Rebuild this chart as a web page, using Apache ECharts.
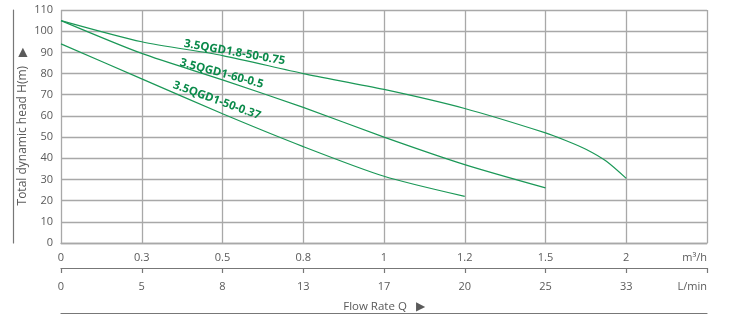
<!DOCTYPE html>
<html>
<head>
<meta charset="utf-8">
<script src="https://cdn.jsdelivr.net/npm/echarts@6/dist/echarts.min.js"></script>
<style>
  html, body { margin: 0; padding: 0; background: #fff; }
  #chart { width: 730px; height: 329px; }
</style>
</head>
<body>
<div id="chart"></div>
<script>
// Flow rate tick labels (evenly spaced positions 0..8)
const flowM3h = ['0', '0.3', '0.5', '0.8', '1', '1.2', '1.5', '2', 'm³/h'];
const flowLpm = ['0', '5', '8', '13', '17', '20', '25', '33', 'L/min'];
const headTicks = [0, 10, 20, 30, 40, 50, 60, 70, 80, 90, 100, 110];

// Pump curves: [flow position, head (m)]
const modelNames = ['3.5QGD1.8-50-0.75', '3.5QGD1-60-0.5', '3.5QGD1-50-0.37'];
const curveQGD18_50 = [[0, 105], [1, 95], [2, 88.5], [3, 80], [4, 72.5], [5, 63.5], [6, 52], [6.25, 48.4], [6.5, 44.3], [6.75, 38.7], [7, 30.5]];
const curveQGD1_60 = [[0, 105], [1, 89.5], [2, 77], [3, 64], [4, 50], [5, 37], [6, 26]];
const curveQGD1_50 = [[0, 94], [1, 77.5], [2, 61], [3, 45.5], [4, 31.5], [5, 22]];

// Where each model name sits along its curve, and its tilt
const labelAnchors = [[2.15, 90], [1.99, 80], [1.93, 67.3]];
const labelAngles = [-10, -15, -20];

const curves = [curveQGD18_50, curveQGD1_60, curveQGD1_50];

const FONT = '"Open Sans", "Noto Sans", sans-serif';
const GRID = '#a8a8a8';
const TEXT = '#5a5a5a';
const LINE = '#1b9857';
const LABEL = '#0a8a4a';

const chart = echarts.init(document.getElementById('chart'));

const series = curves.map((pts, i) => ({
  type: 'line',
  name: modelNames[i],
  data: pts,
  xAxisIndex: 0,
  yAxisIndex: 0,
  smooth: 0.25,
  symbol: 'none',
  lineStyle: { color: LINE, width: 1.2 },
  silent: true,
  markPoint: {
    symbol: 'circle',
    symbolSize: 1,
    itemStyle: { color: 'rgba(0,0,0,0)' },
    silent: true,
    data: [{
      coord: labelAnchors[i],
      label: {
        show: true,
        position: 'inside',
        formatter: modelNames[i],
        rotate: labelAngles[i],
        color: LABEL,
        fontFamily: FONT,
        fontWeight: 'bold',
        fontSize: 11.5
      }
    }]
  }
}));

chart.setOption({
  animation: false,
  backgroundColor: '#fff',
  grid: { left: 61, right: 23, top: 10, bottom: 86, containLabel: false },
  xAxis: [
    {
      type: 'value', min: 0, max: 8, interval: 1, position: 'bottom',
      axisLine: { show: true, onZero: false, lineStyle: { color: GRID, width: 1.3 } },
      axisTick: { show: false },
      splitLine: { show: true, lineStyle: { color: GRID, width: 1.3 } },
      axisLabel: {
        color: TEXT, fontFamily: FONT, fontSize: 11, margin: 9,
        formatter: v => flowM3h[v],
        alignMaxLabel: 'right'
      }
    },
    {
      type: 'value', min: 0, max: 8, interval: 1, position: 'bottom', offset: 25,
      axisLine: { show: true, onZero: false, lineStyle: { color: '#777', width: 1.2 } },
      axisTick: { show: true, inside: false, length: 5, lineStyle: { color: '#777', width: 1.2 } },
      splitLine: { show: false },
      axisLabel: {
        color: TEXT, fontFamily: FONT, fontSize: 11, margin: 13,
        formatter: v => flowLpm[v],
        alignMaxLabel: 'right'
      },
      name: 'Flow Rate Q   ▶',
      nameLocation: 'middle',
      nameGap: 33,
      nameMoveOverlap: false,
      nameTextStyle: { color: TEXT, fontFamily: FONT, fontSize: 11.5 }
    },
    {
      type: 'value', min: 0, max: 8, position: 'bottom', offset: 70,
      axisLine: { show: true, onZero: false, lineStyle: { color: '#777', width: 1.2 } },
      axisTick: { show: false }, axisLabel: { show: false }, splitLine: { show: false }
    }
  ],
  yAxis: [
    {
      type: 'value', min: headTicks[0], max: headTicks[headTicks.length - 1], interval: 10,
      axisLine: { show: false, onZero: false },
      axisTick: { show: false },
      splitLine: { show: true, lineStyle: { color: GRID, width: 1.3 } },
      axisLabel: { color: TEXT, fontFamily: FONT, fontSize: 11, margin: 8 },
      name: 'Total dynamic head H(m)   ▶',
      nameLocation: 'middle',
      nameGap: 32,
      nameMoveOverlap: false,
      nameRotate: 90,
      nameTextStyle: { color: TEXT, fontFamily: FONT, fontSize: 12 }
    },
    {
      type: 'value', min: 0, max: 110, position: 'left', offset: 48,
      axisLine: { show: true, onZero: false, lineStyle: { color: '#777', width: 1.2 } },
      axisTick: { show: false }, axisLabel: { show: false }, splitLine: { show: false }
    }
  ],
  series: series
});
</script>
</body>
</html>
